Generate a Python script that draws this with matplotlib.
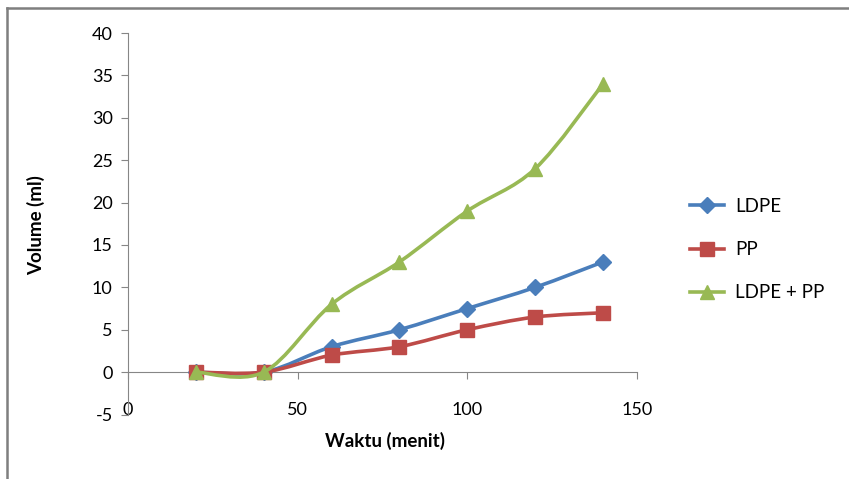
import matplotlib
matplotlib.use("Agg")
import matplotlib.pyplot as plt
import numpy as np
from matplotlib.path import Path
from matplotlib.patches import PathPatch
from matplotlib.lines import Line2D

# data
waktu = [20, 40, 60, 80, 100, 120, 140]
ldpe = [0, 0, 3, 5, 7.5, 10, 13]
pp = [0, 0, 2, 3, 5, 6.5, 7]
ldpe_pp = [0, 0, 8, 13, 19, 24, 34]
labels = ["LDPE", "PP", "LDPE + PP"]

colors = ["#4A7EBB", "#BE4B48", "#98B954"]
markers = ["D", "s", "^"]
msizes = [8, 10, 10]

plt.rcParams['font.family'] = ['Lato', 'DejaVu Sans']
plt.rcParams['axes.unicode_minus'] = False

fig = plt.figure(figsize=(8.49, 4.79), dpi=100)
ax = fig.add_axes([128/849, 1-414.5/479, (637-128)/849, (414.5-33)/479])


def smooth_path(xs, ys):
    # Excel-style smoothed line: cubic bezier with catmull-rom control points
    pts = np.column_stack([xs, ys]).astype(float)
    n = len(pts)
    verts = [pts[0]]
    codes = [Path.MOVETO]
    for i in range(n - 1):
        p0 = pts[i - 1] if i > 0 else pts[i]
        p1 = pts[i]
        p2 = pts[i + 1]
        p3 = pts[i + 2] if i + 2 < n else pts[i + 1]
        c1 = p1 + (p2 - p0) / 6.0
        c2 = p2 - (p3 - p1) / 6.0
        verts += [c1, c2, p2]
        codes += [Path.CURVE4] * 3
    return Path(verts, codes)


series = [ldpe, pp, ldpe_pp]
handles = []
for k, ys in enumerate(series):
    patch = PathPatch(smooth_path(waktu, ys), facecolor='none', edgecolor=colors[k],
                      lw=2.6, zorder=3 + k * 2, capstyle='round', joinstyle='round')
    ax.add_patch(patch)
    ax.plot(waktu, ys, linestyle='none', marker=markers[k], ms=msizes[k],
            color=colors[k], zorder=4 + k * 2, clip_on=False)
    handles.append(Line2D([], [], color=colors[k], lw=2.6, marker=markers[k],
                          ms=msizes[k]))

ax.set_xlim(0, 150)
ax.set_ylim(-5, 40)
ax.set_yticks(np.arange(-5, 41, 5))
ax.set_xticks([0, 50, 100, 150])

for s in ['top', 'right']:
    ax.spines[s].set_visible(False)
ax.spines['bottom'].set_position(('data', 0))
ax.spines['bottom'].set_color('#868686')
ax.spines['left'].set_color('#868686')
ax.tick_params(axis='y', direction='out', length=5, color='#868686', labelsize=13, pad=6)
ax.tick_params(axis='x', direction='out', length=5, color='#868686', labelbottom=False)
ax.patch.set_alpha(0)

# x tick labels sit at the bottom of the plot, like Excel's "low" position
sec = ax.secondary_xaxis('bottom')
sec.set_xticks([0, 50, 100, 150])
sec.spines['bottom'].set_visible(False)
sec.tick_params(length=0, labelsize=13, pad=-9)

fig.text(36/849, 1-225/479, "Volume (ml)", rotation=90, ha='center', va='center',
         fontsize=13.5, fontweight='bold')
fig.text(385/849, 1-441/479, "Waktu (menit)", ha='center', va='center',
         fontsize=13.5, fontweight='bold')

leg = fig.legend(handles, labels, loc='upper left', bbox_to_anchor=(690/849, 1-198/479),
                 frameon=False, fontsize=13.5, handlelength=1.8, handletextpad=0.6,
                 labelspacing=1.4, borderaxespad=0, borderpad=0)

# chart border
fig.add_artist(Line2D([7/849, 7/849], [0, 1-8/479], color='#7F7F7F', lw=1.8))
fig.add_artist(Line2D([7/849, 1], [1-8/479, 1-8/479], color='#7F7F7F', lw=1.8))

fig.savefig("out.png", dpi=100)
